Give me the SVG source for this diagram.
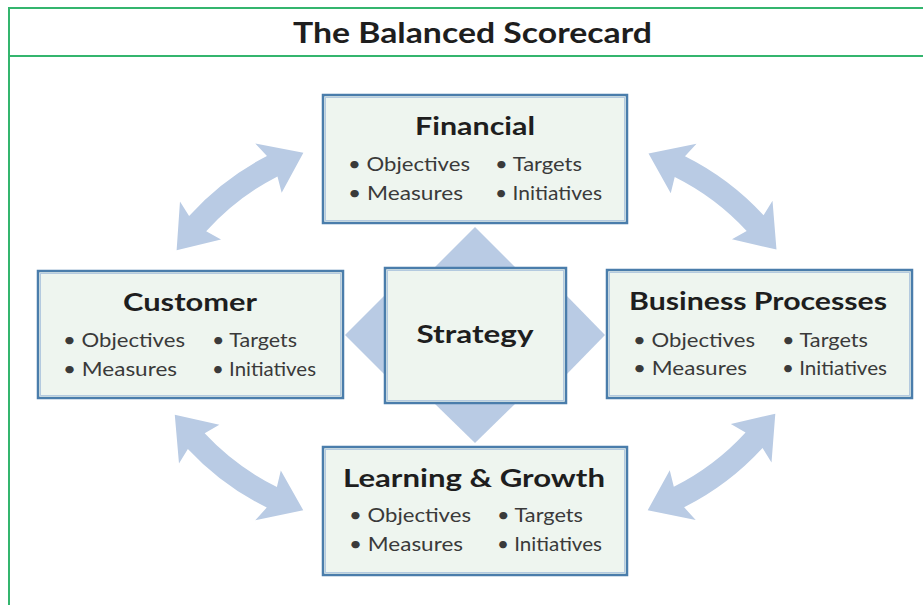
<svg xmlns="http://www.w3.org/2000/svg" width="923" height="605" viewBox="0 0 923 605">
<style>
.frame{stroke:#34b56e;stroke-width:2;fill:none}
.box{fill:#eef5ef;stroke:#4a7dab;stroke-width:2.5}
.inner{fill:none;stroke:#b4cadf;stroke-width:1}
.arrow{fill:#b9cbe4}
.title{font-family:Lato,"Open Sans",sans-serif;font-weight:700;fill:#1e1e1e}
.item{font-family:Lato,"Open Sans",sans-serif;font-size:20px;fill:#3a3a3a}
</style>
<defs>
<path id="dbl" d="M -80,0 L -38.28,18.58 L -44.98,3.0 A 248.5 248.5 0 0 1 44.98,3.0 L 38.28,18.58 L 80,0 L 47.52,-36.65 L 49.14,-19.62 A 271.5 271.5 0 0 0 -49.14,-19.62 L -47.52,-36.65 Z"/>
</defs>
<rect x="0" y="0" width="923" height="605" fill="#ffffff"/>
<g id="frame">
<line class="frame" x1="8" y1="8" x2="923" y2="8"/>
<line class="frame" x1="8" y1="56" x2="923" y2="56"/>
<line class="frame" x1="9" y1="7" x2="9" y2="605"/>
<text class="title" x="472.5" y="43" font-size="29" text-anchor="middle" textLength="359" lengthAdjust="spacingAndGlyphs">The Balanced Scorecard</text>
</g>
<g id="connectors">
<use href="#dbl" class="arrow" transform="translate(240,201.5) rotate(-37.6)"/>
<use href="#dbl" class="arrow" transform="translate(712.5,201.5) rotate(36.9)"/>
<use href="#dbl" class="arrow" transform="translate(239,462.5) rotate(-143.4)"/>
<use href="#dbl" class="arrow" transform="translate(711.5,462) rotate(142.9)"/>
<polygon class="arrow" points="434,268 475,227 516,268"/>
<polygon class="arrow" points="386,294 345,335 386,376"/>
<polygon class="arrow" points="565,294 605,335 565,376"/>
<polygon class="arrow" points="434,403 475,443 516,403"/>
</g>
<g id="financial">
<rect class="box" x="323" y="95" width="304" height="128"/>
<rect class="inner" x="325.5" y="97.5" width="299" height="123"/>
<text class="title" x="475" y="135" font-size="25" text-anchor="middle" textLength="120" lengthAdjust="spacingAndGlyphs">Financial</text>
<text class="item" x="348" y="171" textLength="122" lengthAdjust="spacingAndGlyphs">• Objectives</text>
<text class="item" x="495" y="171" textLength="87" lengthAdjust="spacingAndGlyphs">• Targets</text>
<text class="item" x="348" y="200" textLength="115" lengthAdjust="spacingAndGlyphs">• Measures</text>
<text class="item" x="495" y="200" textLength="107" lengthAdjust="spacingAndGlyphs">• Initiatives</text>
</g>
<g id="customer">
<rect class="box" x="38" y="271" width="305" height="127"/>
<rect class="inner" x="40.5" y="273.5" width="300" height="122"/>
<text class="title" x="190" y="311" font-size="25" text-anchor="middle" textLength="134" lengthAdjust="spacingAndGlyphs">Customer</text>
<text class="item" x="63" y="347" textLength="122" lengthAdjust="spacingAndGlyphs">• Objectives</text>
<text class="item" x="212" y="347" textLength="85" lengthAdjust="spacingAndGlyphs">• Targets</text>
<text class="item" x="63" y="376" textLength="114" lengthAdjust="spacingAndGlyphs">• Measures</text>
<text class="item" x="212" y="376" textLength="104" lengthAdjust="spacingAndGlyphs">• Initiatives</text>
</g>
<g id="strategy">
<rect class="box" x="385" y="268" width="181" height="135"/>
<rect class="inner" x="387.5" y="270.5" width="176" height="130"/>
<text class="title" x="475" y="343" font-size="25" text-anchor="middle" textLength="117" lengthAdjust="spacingAndGlyphs">Strategy</text>
</g>
<g id="business-processes">
<rect class="box" x="607" y="270" width="305" height="128"/>
<rect class="inner" x="609.5" y="272.5" width="300" height="123"/>
<text class="title" x="758" y="310" font-size="25" text-anchor="middle" textLength="258" lengthAdjust="spacingAndGlyphs">Business Processes</text>
<text class="item" x="633" y="347" textLength="122" lengthAdjust="spacingAndGlyphs">• Objectives</text>
<text class="item" x="782" y="347" textLength="86" lengthAdjust="spacingAndGlyphs">• Targets</text>
<text class="item" x="633" y="375" textLength="114" lengthAdjust="spacingAndGlyphs">• Measures</text>
<text class="item" x="782" y="375" textLength="105" lengthAdjust="spacingAndGlyphs">• Initiatives</text>
</g>
<g id="learning-growth">
<rect class="box" x="323" y="447" width="304" height="128"/>
<rect class="inner" x="325.5" y="449.5" width="299" height="123"/>
<text class="title" x="474" y="487" font-size="25" text-anchor="middle" textLength="262" lengthAdjust="spacingAndGlyphs">Learning &amp; Growth</text>
<text class="item" x="349" y="522" textLength="122" lengthAdjust="spacingAndGlyphs">• Objectives</text>
<text class="item" x="497" y="522" textLength="86" lengthAdjust="spacingAndGlyphs">• Targets</text>
<text class="item" x="349" y="551" textLength="114" lengthAdjust="spacingAndGlyphs">• Measures</text>
<text class="item" x="497" y="551" textLength="105" lengthAdjust="spacingAndGlyphs">• Initiatives</text>
</g>
</svg>
